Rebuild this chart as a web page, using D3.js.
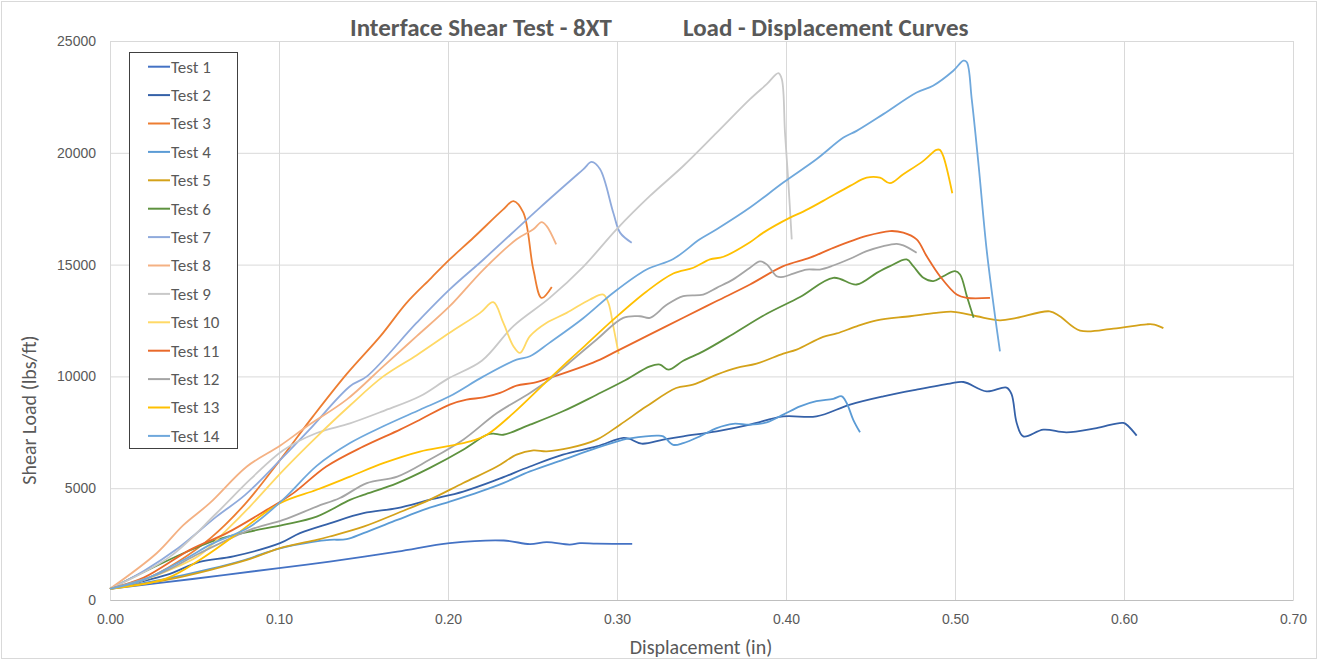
<!DOCTYPE html>
<html>
<head>
<meta charset="utf-8">
<script src="https://cdn.jsdelivr.net/npm/d3@7"></script>
<style>
  body { margin: 0; background: #fff; }
  svg { display: block; font-family: Carlito, Calibri, Lato, sans-serif; }
</style>
</head>
<body>
<div id="chart"></div>
<script>
// displacement (in), shear load (lbs/ft)
const test1 = [[0,500],[0.05,950],[0.10,1430],[0.13,1720],[0.17,2160],[0.201,2540],[0.233,2660],[0.2485,2500],[0.2584,2590],[0.272,2480],[0.278,2540],[0.288,2520],[0.309,2510]];
const test2 = [[0,500],[0.0335,1120],[0.053,1700],[0.073,1950],[0.1006,2540],[0.1124,2990],[0.13,3430],[0.15,3880],[0.17,4110],[0.189,4480],[0.209,4850],[0.229,5380],[0.2485,5970],[0.268,6500],[0.288,6870],[0.3037,7250],[0.3077,7200],[0.3146,6990],[0.3274,7170],[0.3392,7320],[0.359,7540],[0.3787,7840],[0.3984,8210],[0.418,8210],[0.4379,8740],[0.4576,9110],[0.4773,9410],[0.497,9680],[0.505,9750],[0.5187,9330],[0.5305,9500],[0.5335,9200],[0.5365,7920],[0.5404,7320],[0.5523,7620],[0.566,7500],[0.5838,7690],[0.5996,7920],[0.6026,7770],[0.6075,7350]];
const test3 = [[0,500],[0.02,900],[0.04,1700],[0.06,2800],[0.08,4300],[0.10,6200],[0.12,8200],[0.14,10100],[0.16,11800],[0.1755,13290],[0.19,14400],[0.201,15230],[0.215,16200],[0.2327,17470],[0.2387,17840],[0.2446,17320],[0.2505,14780],[0.2554,13510],[0.2614,14000]];
const test4 = [[0,500],[0.03,900],[0.06,1400],[0.08,1800],[0.10,2300],[0.12,2600],[0.13,2690],[0.14,2720],[0.15,2990],[0.17,3580],[0.1854,4030],[0.201,4400],[0.219,4850],[0.2327,5230],[0.2485,5750],[0.268,6270],[0.288,6800],[0.3037,7170],[0.3077,7230],[0.3235,7350],[0.3274,7320],[0.3333,6940],[0.3392,7020],[0.349,7320],[0.359,7690],[0.3688,7880],[0.3787,7840],[0.3886,7940],[0.3984,8290],[0.4083,8660],[0.418,8890],[0.428,9000],[0.433,9110],[0.4359,8810],[0.4398,8060],[0.4438,7500]];
const test5 = [[0,500],[0.0335,900],[0.059,1340],[0.081,1790],[0.1006,2320],[0.1223,2690],[0.13,2840],[0.15,3280],[0.17,3880],[0.189,4480],[0.209,5230],[0.229,5970],[0.2406,6500],[0.2505,6690],[0.2584,6650],[0.272,6800],[0.288,7170],[0.3018,7840],[0.3175,8660],[0.335,9480],[0.345,9630],[0.359,10080],[0.3708,10380],[0.3826,10570],[0.3984,11020],[0.4063,11200],[0.422,11770],[0.43,11920],[0.4418,12240],[0.4537,12510],[0.4734,12690],[0.489,12840],[0.499,12890],[0.5128,12690],[0.5266,12510],[0.5365,12620],[0.556,12910],[0.562,12690],[0.574,12050],[0.5937,12140],[0.6134,12330],[0.618,12320],[0.6233,12160]];
const test6 = [[0,500],[0.0434,2090],[0.063,2690],[0.0828,3060],[0.1025,3360],[0.1223,3730],[0.142,4480],[0.15,4700],[0.17,5230],[0.189,5900],[0.209,6720],[0.223,7390],[0.2268,7440],[0.2327,7390],[0.2485,7840],[0.268,8440],[0.288,9180],[0.3037,9780],[0.3195,10450],[0.3254,10530],[0.3304,10300],[0.3392,10700],[0.351,11120],[0.3688,11900],[0.3886,12800],[0.4083,13550],[0.428,14410],[0.4418,14110],[0.4537,14630],[0.4615,14930],[0.4714,15230],[0.4753,14930],[0.4813,14410],[0.4872,14260],[0.4931,14480],[0.5,14710],[0.503,14560],[0.507,13590],[0.511,12620]];
const test7 = [[0,500],[0.02,1300],[0.04,2300],[0.063,3730],[0.08,4700],[0.1025,6400],[0.118,7620],[0.142,9560],[0.152,10000],[0.1815,12400],[0.201,13890],[0.221,15230],[0.2544,17550],[0.28,19260],[0.285,19590],[0.29,19260],[0.2978,17320],[0.3018,16430],[0.3087,15980]];
const test8 = [[0,500],[0.0276,2090],[0.0434,3350],[0.059,4330],[0.081,5970],[0.1006,6900],[0.1164,7760],[0.140,8960],[0.1617,10450],[0.1815,11800],[0.201,13140],[0.221,14780],[0.2406,16130],[0.2505,16580],[0.2554,16900],[0.2584,16720],[0.264,15900]];
const test9 = [[0,500],[0.0355,1940],[0.063,3880],[0.0828,5380],[0.1025,6700],[0.1223,7470],[0.142,7900],[0.1617,8450],[0.1834,9110],[0.20,9900],[0.22,10700],[0.2387,12250],[0.26,13500],[0.28,14900],[0.30,16600],[0.3195,18070],[0.3392,19410],[0.359,20900],[0.3787,22400],[0.3886,23070],[0.3955,23560],[0.3975,23300],[0.3994,20900],[0.4014,18670],[0.4034,16130]];
const test10 = [[0,500],[0.02,900],[0.04,1500],[0.053,2000],[0.07,3200],[0.0828,4180],[0.1025,5800],[0.1223,7300],[0.142,8700],[0.1617,10000],[0.1815,10950],[0.201,11950],[0.219,12840],[0.2268,13320],[0.2327,12400],[0.2387,11350],[0.2426,11050],[0.2485,11800],[0.2584,12400],[0.2702,12840],[0.284,13440],[0.2919,13660],[0.2949,13290],[0.2978,12250],[0.301,11000]];
const test11 = [[0,500],[0.02,1000],[0.0473,2240],[0.069,2990],[0.0927,4030],[0.1085,4780],[0.128,5970],[0.15,6870],[0.1716,7620],[0.1834,8060],[0.201,8740],[0.211,8960],[0.221,9060],[0.2308,9260],[0.2406,9590],[0.2505,9710],[0.26,9930],[0.28,10450],[0.29,10750],[0.2978,11050],[0.3175,11800],[0.3392,12620],[0.359,13370],[0.3787,14110],[0.3984,14930],[0.4142,15310],[0.428,15750],[0.4477,16280],[0.4615,16500],[0.4694,16430],[0.4773,16130],[0.4832,15380],[0.4911,14480],[0.501,13660],[0.507,13510],[0.5207,13510]];
const test12 = [[0,500],[0.03,1200],[0.053,2090],[0.0828,3140],[0.1025,3580],[0.1223,4180],[0.136,4560],[0.152,5230],[0.17,5520],[0.189,6270],[0.209,7170],[0.229,8360],[0.2485,9260],[0.26,9860],[0.27,10500],[0.288,11650],[0.3037,12620],[0.3136,12690],[0.3195,12620],[0.3294,13200],[0.3392,13590],[0.351,13660],[0.359,13960],[0.3688,14340],[0.3787,14860],[0.3846,15140],[0.3886,15010],[0.3945,14480],[0.3984,14450],[0.4043,14600],[0.4122,14780],[0.42,14780],[0.428,14960],[0.4379,15260],[0.4477,15600],[0.4576,15830],[0.4655,15930],[0.4694,15860],[0.4773,15530]];
const test13 = [[0,500],[0.0335,970],[0.053,1790],[0.073,2840],[0.1006,4330],[0.1223,4930],[0.142,5520],[0.1617,6120],[0.1834,6640],[0.1992,6870],[0.213,7090],[0.223,7390],[0.2387,8360],[0.2584,9780],[0.272,10750],[0.28,11300],[0.2978,12540],[0.3175,13800],[0.3333,14600],[0.3452,14860],[0.355,15230],[0.363,15350],[0.3787,16000],[0.3866,16430],[0.4024,17100],[0.4102,17370],[0.422,17850],[0.4379,18520],[0.4477,18890],[0.4556,18890],[0.4615,18640],[0.4694,19040],[0.4813,19640],[0.489,20130],[0.491,20130],[0.493,19860],[0.4984,18190]];
const test14 = [[0,500],[0.02,900],[0.0434,1790],[0.06,2500],[0.0828,3280],[0.1025,4500],[0.1223,6000],[0.142,7020],[0.1617,7770],[0.1834,8510],[0.201,9110],[0.221,10000],[0.2406,10750],[0.2485,10900],[0.26,11500],[0.28,12600],[0.2978,13740],[0.3175,14780],[0.3333,15250],[0.349,16130],[0.359,16580],[0.3787,17550],[0.3984,18670],[0.418,19710],[0.434,20680],[0.4418,20980],[0.4576,21730],[0.4773,22700],[0.487,23000],[0.499,23670],[0.505,24120],[0.507,24050],[0.5099,22400],[0.514,19410],[0.5187,15680],[0.5237,12690],[0.5266,11120]];

const seriesNames = ["Test 1","Test 2","Test 3","Test 4","Test 5","Test 6","Test 7","Test 8","Test 9","Test 10","Test 11","Test 12","Test 13","Test 14"];
const seriesColors = ["#4472C4","#3561A8","#ED7D31","#5B9BD5","#D4A21A","#5E923F","#8FAADC","#F4B183","#C9C9C9","#FFD966","#E9692A","#A5A5A5","#FFC000","#6FA8DC"];
const seriesData = [test1,test2,test3,test4,test5,test6,test7,test8,test9,test10,test11,test12,test13,test14];
const xTicks = [0,0.1,0.2,0.3,0.4,0.5,0.6,0.7];
const yTicks = [0,5000,10000,15000,20000,25000];

const width = 1319, height = 661;
const plotLeft = 110, plotRight = 1293, plotTop = 41, plotBottom = 600;
const textColor = "#595959";

const svg = d3.select("#chart").append("svg")
  .attr("width", width)
  .attr("height", height);

// chart border
svg.append("rect")
  .attr("x", 1.5).attr("y", 1.5)
  .attr("width", width - 4).attr("height", height - 4)
  .attr("fill", "#fff").attr("stroke", "#D9D9D9");

const x = d3.scaleLinear().domain([0, 0.7]).range([plotLeft, plotRight]);
const y = d3.scaleLinear().domain([0, 25000]).range([plotBottom, plotTop]);

// gridlines
svg.append("g")
  .attr("transform", "translate(0," + plotBottom + ")")
  .call(d3.axisBottom(x).tickValues(xTicks).tickSize(-(plotBottom - plotTop)).tickFormat(""))
  .call(g => g.select(".domain").remove())
  .selectAll("line").attr("stroke", "#D9D9D9");

svg.append("g")
  .attr("transform", "translate(" + plotLeft + ",0)")
  .call(d3.axisLeft(y).tickValues(yTicks).tickSize(-(plotRight - plotLeft)).tickFormat(""))
  .call(g => g.select(".domain").remove())
  .selectAll("line").attr("stroke", "#D9D9D9");

// x axis line + labels
const xAxis = svg.append("g")
  .attr("transform", "translate(0," + plotBottom + ")")
  .call(d3.axisBottom(x).tickValues(xTicks).tickSize(0).tickPadding(14).tickFormat(d3.format(".2f")));
xAxis.select(".domain").attr("stroke", "#BFBFBF");
xAxis.selectAll("text").attr("fill", textColor).style("font-size", "14px");

const yAxis = svg.append("g")
  .attr("transform", "translate(" + plotLeft + ",0)")
  .call(d3.axisLeft(y).tickValues(yTicks).tickSize(0).tickPadding(14).tickFormat(d3.format("d")));
yAxis.select(".domain").remove();
yAxis.selectAll("text").attr("fill", textColor).style("font-size", "14px");

// curves
const line = d3.line()
  .x(d => x(d[0]))
  .y(d => y(d[1]))
  .curve(d3.curveCatmullRom.alpha(0.5));

svg.append("g").selectAll("path")
  .data(seriesData)
  .enter()
  .append("path")
  .attr("d", d => line(d))
  .attr("fill", "none")
  .attr("stroke", (d, i) => seriesColors[i])
  .attr("stroke-width", 1.8)
  .attr("stroke-linejoin", "round");

// title
const title = svg.append("text")
  .attr("y", 36)
  .attr("fill", textColor)
  .style("font-size", "25px")
  .style("font-weight", "bold");
title.append("tspan").attr("x", 350).text("Interface Shear Test - 8XT");
title.append("tspan").attr("x", 683).text("Load - Displacement Curves");

// axis titles
svg.append("text")
  .attr("x", 701).attr("y", 654)
  .attr("text-anchor", "middle")
  .attr("fill", textColor)
  .style("font-size", "20px")
  .text("Displacement (in)");

svg.append("text")
  .attr("transform", "translate(36,410) rotate(-90)")
  .attr("text-anchor", "middle")
  .attr("fill", textColor)
  .style("font-size", "20px")
  .text("Shear Load (lbs/ft)");

// legend
const legend = svg.append("g");
legend.append("rect")
  .attr("x", 129.5).attr("y", 52.5)
  .attr("width", 108).attr("height", 396)
  .attr("fill", "#fff").attr("stroke", "#404040");

const rows = legend.selectAll("g")
  .data(seriesNames)
  .enter()
  .append("g")
  .attr("transform", (d, i) => "translate(0," + (66.7 + i * 28.4) + ")");

rows.append("line")
  .attr("x1", 148).attr("x2", 170)
  .attr("stroke", (d, i) => seriesColors[i])
  .attr("stroke-width", 2);

rows.append("text")
  .attr("x", 171).attr("dy", "0.35em")
  .attr("fill", textColor)
  .style("font-size", "17px")
  .text(d => d);
</script>
</body>
</html>
